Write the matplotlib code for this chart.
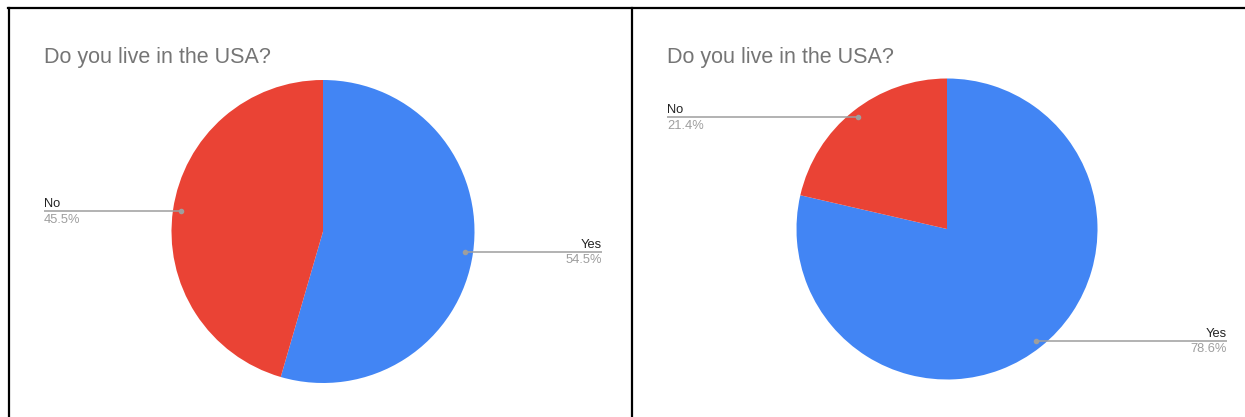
import numpy as np
import matplotlib
matplotlib.use("Agg")
import matplotlib.pyplot as plt

# chart data
labels = ["Yes", "No"]
left_values = [54.5, 45.5]
right_values = [78.6, 21.4]
title = "Do you live in the USA?"

BLUE = "#4285F4"
RED = "#EA4335"
W, H = 1245, 417

plt.rcParams["font.family"] = ["Liberation Sans", "DejaVu Sans"]

fig = plt.figure(figsize=(W / 100, H / 100), dpi=100)
ax = fig.add_axes([0, 0, 1, 1])


def py(y):
    # pixel row (from top) -> axes y
    return H - y


def draw_panel(values, cx, cy, r, title_x, label_left, label_right):
    wedges, _ = ax.pie(values, colors=[BLUE, RED], startangle=90,
                       counterclock=False, center=(cx, py(cy)), radius=r,
                       wedgeprops=dict(linewidth=0))
    ax.text(title_x, py(63), title, fontsize=15.5, color="#757575",
            ha="left", va="baseline")
    for w, lab, val in zip(wedges, labels, values):
        mid = np.deg2rad((w.theta1 + w.theta2) / 2)
        dx = cx + 0.95 * r * np.cos(mid)
        dy = py(cy) + 0.95 * r * np.sin(mid)
        if np.cos(mid) < 0:
            tx, ha = label_left, "left"
        else:
            tx, ha = label_right, "right"
        ax.plot([dx, tx], [dy, dy], color="#9e9e9e", lw=1.1,
                solid_capstyle="butt", zorder=3)
        ax.plot(dx, dy, "o", color="#9e9e9e", ms=3, zorder=4)
        ax.text(tx, dy + 4, lab, fontsize=9.3, color="#222222",
                ha=ha, va="baseline")
        ax.text(tx, dy - 2.5, f"{val}%", fontsize=9.3, color="#9e9e9e",
                ha=ha, va="top")


draw_panel(left_values, 323, 231.5, 151.5, 44, 44, 602)
draw_panel(right_values, 947, 229, 150.5, 667, 667, 1227)

# panel borders
ax.plot([8, W], [py(8), py(8)], color="black", lw=1.6)
ax.plot([9, 9], [py(8), 0], color="black", lw=1.6)
ax.plot([632, 632], [py(8), 0], color="black", lw=1.6)

ax.set_xlim(0, W)
ax.set_ylim(0, H)
ax.set_aspect("equal")
ax.axis("off")

fig.savefig("out.png", dpi=100)
